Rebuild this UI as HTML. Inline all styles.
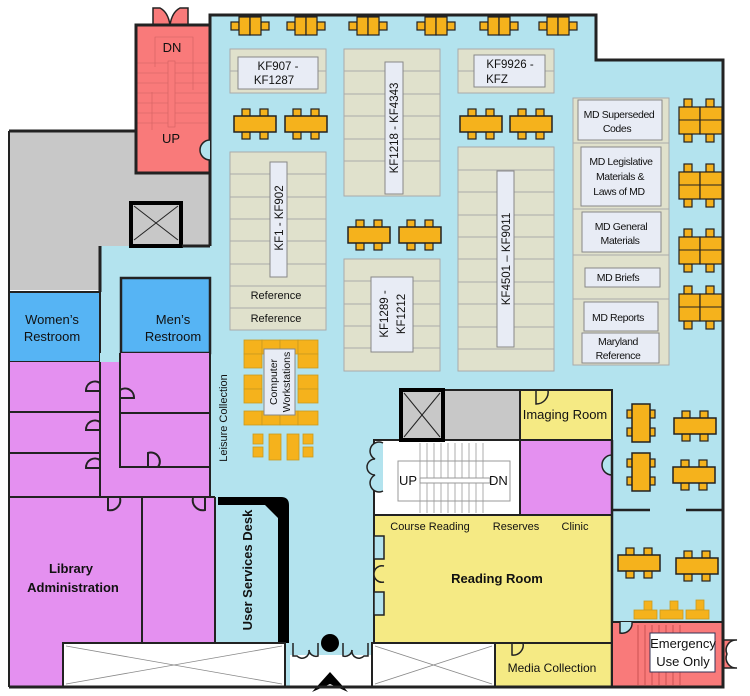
<!DOCTYPE html>
<html><head><meta charset="utf-8"><style>
html,body{margin:0;padding:0;background:#fff;width:750px;height:696px;overflow:hidden}
svg{display:block}
text{font-family:"Liberation Sans",Arial,sans-serif;fill:#111}
</style></head><body>
<svg width="750" height="696" viewBox="0 0 750 696" xmlns="http://www.w3.org/2000/svg">
<defs>
<g id="th"><rect x="-13" y="-15" width="8" height="8" fill="#f5b21c" stroke="#222" stroke-width="1.2"/><rect x="5" y="-15" width="8" height="8" fill="#f5b21c" stroke="#222" stroke-width="1.2"/><rect x="-13" y="7" width="8" height="8" fill="#f5b21c" stroke="#222" stroke-width="1.2"/><rect x="5" y="7" width="8" height="8" fill="#f5b21c" stroke="#222" stroke-width="1.2"/><rect x="-21" y="-8" width="42" height="16" fill="#f5b21c" stroke="#222" stroke-width="1.5"/></g>
<g id="tv"><rect x="-14" y="-13" width="8" height="8" fill="#f5b21c" stroke="#222" stroke-width="1.2"/><rect x="-14" y="5" width="8" height="8" fill="#f5b21c" stroke="#222" stroke-width="1.2"/><rect x="6" y="-13" width="8" height="8" fill="#f5b21c" stroke="#222" stroke-width="1.2"/><rect x="6" y="5" width="8" height="8" fill="#f5b21c" stroke="#222" stroke-width="1.2"/><rect x="-9" y="-19" width="18" height="38" fill="#f5b21c" stroke="#222" stroke-width="1.5"/></g>
<g id="ts"><rect x="-19" y="-4" width="8" height="8" fill="#f5b21c" stroke="#222" stroke-width="1.2"/><rect x="11" y="-4" width="8" height="8" fill="#f5b21c" stroke="#222" stroke-width="1.2"/><rect x="-11" y="-9" width="11" height="18" fill="#f5b21c" stroke="#222" stroke-width="1.2"/><rect x="0" y="-9" width="11" height="18" fill="#f5b21c" stroke="#222" stroke-width="1.2"/></g>
<g id="tp"><rect x="-17" y="-22" width="8" height="8" fill="#f5b21c" stroke="#222" stroke-width="1.2"/><rect x="5" y="-22" width="8" height="8" fill="#f5b21c" stroke="#222" stroke-width="1.2"/><rect x="-17" y="13" width="8" height="8" fill="#f5b21c" stroke="#222" stroke-width="1.2"/><rect x="5" y="13" width="8" height="8" fill="#f5b21c" stroke="#222" stroke-width="1.2"/><rect x="-22" y="-14" width="21" height="27" fill="#f5b21c" stroke="#222" stroke-width="1.2"/><rect x="-1" y="-14" width="22" height="27" fill="#f5b21c" stroke="#222" stroke-width="1.2"/><line x1="-22" y1="-1" x2="21" y2="-1" stroke="#222"/></g>
</defs>

<polygon points="210,15 596,15 596,60 723,60 723,687 210,687 210,246 100,246 100,292 210,292" fill="#b3e3ee"/>
<rect x="100" y="246" width="110" height="116" fill="#b3e3ee"/>
<polygon points="8,131 136,131 136,173 210,173 210,246 100,246 100,290 8,290" fill="#c8c8c8"/>
<rect x="135" y="25" width="75" height="148" fill="#f97a7a"/>
<g stroke="#d06062" stroke-width="0.6" fill="none">
<line x1="137" y1="63" x2="208" y2="63"/><line x1="137" y1="73" x2="208" y2="73"/><line x1="137" y1="83" x2="208" y2="83"/><line x1="137" y1="93" x2="208" y2="93"/><line x1="137" y1="103" x2="208" y2="103"/><line x1="137" y1="113" x2="208" y2="113"/><line x1="137" y1="123" x2="208" y2="123"/>
<rect x="168" y="61" width="7" height="66" fill="#f97a7a"/>
<polyline points="155,67 155,37 193,37 193,90"/>
<line x1="152" y1="92" x2="152" y2="130"/>
</g>
<text x="172" y="52" font-size="13" text-anchor="middle">DN</text>
<text x="171" y="143" font-size="13" text-anchor="middle">UP</text>
<path d="M153,25 L153,8 L160,8 Q168,12 170,25 Q172,12 180,8 L188,8 L188,25 Z" fill="#f97a7a" stroke="#222" stroke-width="1.5"/>
<rect x="131" y="203" width="50" height="43" fill="#c8c8c8" stroke="#000" stroke-width="4"/>
<line x1="134" y1="206" x2="178" y2="240" stroke="#222"/><line x1="178" y1="206" x2="134" y2="240" stroke="#222"/>
<rect x="9" y="292" width="91" height="70" fill="#56b4f4" stroke="#222" stroke-width="2"/>
<rect x="121" y="278" width="89" height="75" fill="#56b4f4" stroke="#222" stroke-width="2.5"/>
<text x="52" y="324" font-size="13" text-anchor="middle">Women’s</text>
<text x="52" y="341" font-size="13" text-anchor="middle">Restroom</text>
<text x="173" y="324" font-size="13" text-anchor="middle">Men’s</text>
<text x="173" y="341" font-size="13" text-anchor="middle">Restroom</text>
<polygon points="9,362 100,362 100,353 210,353 210,497 215,497 215,643 142,643 142,687 9,687" fill="#e490f0"/>
<polygon points="100,362 120,362 120,353 100,353" fill="#b3e3ee"/>
<g stroke="#222" stroke-width="2" fill="none">
<line x1="9" y1="412" x2="100" y2="412"/><line x1="9" y1="453" x2="100" y2="453"/><line x1="9" y1="497" x2="100" y2="497"/>
<line x1="100" y1="362" x2="100" y2="497"/>
<polyline points="120,353 120,467 210,467"/><line x1="120" y1="413" x2="210" y2="413"/>
<line x1="100" y1="497" x2="215" y2="497"/><line x1="142" y1="497" x2="142" y2="643"/>
<line x1="9" y1="131" x2="9" y2="687"/><line x1="210" y1="353" x2="210" y2="497"/>
<line x1="215" y1="497" x2="215" y2="643"/>
<path d="M100,383 a9,9 0 0 0 -14,8 L100,391"/><path d="M100,422 a9,9 0 0 0 -14,8 L100,430"/><path d="M100,460 a9,9 0 0 0 -14,8 L100,468"/>
<path d="M120,390 a9,9 0 0 1 14,8 L120,398"/><path d="M148,467 L148,453 a9,9 0 0 1 10,14"/>
<path d="M108,497 L108,510 a10,10 0 0 0 12,-12"/><path d="M205,497 L205,510 a10,10 0 0 1 -12,-12"/>
</g>
<text x="71" y="573" font-size="13" font-weight="bold" text-anchor="middle">Library</text>
<text x="73" y="592" font-size="13" font-weight="bold" text-anchor="middle">Administration</text>
<rect x="218" y="497" width="70" height="146" fill="#b3e3ee"/>
<path d="M218,497 L281,497 Q289,497 289,505 L289,643 L278,643 L278,518 L265,505 L218,505 Z" fill="#000"/>
<text transform="translate(252,570) rotate(-90)" font-size="13" font-weight="bold" text-anchor="middle">User Services Desk</text>
<text transform="translate(227,418) rotate(-90)" font-size="11" text-anchor="middle">Leisure Collection</text>
<rect x="63" y="643" width="222" height="44" fill="#fff" stroke="#222" stroke-width="2"/>
<line x1="66" y1="646" x2="282" y2="684" stroke="#888" stroke-width="0.8"/><line x1="282" y1="646" x2="66" y2="684" stroke="#888" stroke-width="0.8"/>
<rect x="290" y="643" width="82" height="12" fill="#b3e3ee"/>
<rect x="290" y="655" width="82" height="40" fill="#fff"/>
<g stroke="#222" stroke-width="1.5" fill="none">
<path d="M293,643 L293,656 L297,656 a7,7 0 0 0 12,-6"/><path d="M318,643 L318,656 a7,7 0 0 1 -9,-6"/>
<path d="M343,643 L343,656 a7,7 0 0 0 9,-6"/><path d="M368,643 L368,656 L364,656 a7,7 0 0 1 -12,-6"/>
</g>
<circle cx="330" cy="643" r="9" fill="#000"/>
<polygon points="330,672 348,692 330,684 312,692" fill="#000"/>
<rect x="372" y="643" width="123" height="44" fill="#fff" stroke="#222" stroke-width="2"/>
<line x1="375" y1="646" x2="492" y2="684" stroke="#888" stroke-width="0.8"/><line x1="492" y1="646" x2="375" y2="684" stroke="#888" stroke-width="0.8"/>
<rect x="495" y="643" width="117" height="44" fill="#f5ea84" stroke="#222" stroke-width="2"/>
<path d="M512,643 L512,655 a10,10 0 0 0 11,-12" stroke="#222" stroke-width="1.5" fill="none"/>
<text x="552" y="672" font-size="12" text-anchor="middle">Media Collection</text>
<rect x="374" y="515" width="238" height="128" fill="#f5ea84" stroke="#222" stroke-width="2"/>
<rect x="374" y="536" width="10" height="23" fill="#b3e3ee" stroke="#222" stroke-width="1.5"/>
<rect x="374" y="592" width="10" height="23" fill="#b3e3ee" stroke="#222" stroke-width="1.5"/>
<path d="M384,566 a8,8 0 0 0 -10,8 a8,8 0 0 0 10,8" stroke="#222" stroke-width="1.5" fill="#f5ea84"/>
<text x="430" y="530" font-size="11" text-anchor="middle">Course Reading</text>
<text x="516" y="530" font-size="11" text-anchor="middle">Reserves</text>
<text x="575" y="530" font-size="11" text-anchor="middle">Clinic</text>
<text x="497" y="583" font-size="13" font-weight="bold" text-anchor="middle">Reading Room</text>
<rect x="374" y="440" width="146" height="75" fill="#fff" stroke="#222" stroke-width="2"/>
<g stroke="#999" stroke-width="0.8">
<line x1="420" y1="443" x2="420" y2="513"/><line x1="427" y1="443" x2="427" y2="513"/><line x1="434" y1="443" x2="434" y2="513"/><line x1="441" y1="443" x2="441" y2="513"/><line x1="448" y1="443" x2="448" y2="513"/><line x1="455" y1="443" x2="455" y2="513"/><line x1="462" y1="443" x2="462" y2="513"/><line x1="469" y1="443" x2="469" y2="513"/><line x1="476" y1="443" x2="476" y2="513"/><line x1="483" y1="443" x2="483" y2="513"/>
</g>
<rect x="398" y="461" width="112" height="40" fill="none" stroke="#999"/>
<rect x="420" y="478" width="70" height="5" fill="#fff" stroke="#999"/>
<text x="399" y="485" font-size="13">UP</text><text x="489" y="485" font-size="13">DN</text>
<path d="M383,443 a8,8 0 0 0 -8,16 a8,8 0 0 0 0,16 a8,8 0 0 0 8,16" stroke="#222" stroke-width="1.5" fill="#b3e3ee"/>
<rect x="520" y="440" width="92" height="75" fill="#e490f0" stroke="#222" stroke-width="2"/>
<path d="M612,455 a10,10 0 0 0 -10,10 a10,10 0 0 0 10,10" stroke="#222" stroke-width="1.5" fill="#b3e3ee"/>
<rect x="443" y="390" width="77" height="50" fill="#c8c8c8" stroke="#222" stroke-width="2"/>
<rect x="401" y="390" width="42" height="50" fill="#c8c8c8" stroke="#000" stroke-width="4"/>
<line x1="404" y1="393" x2="440" y2="437" stroke="#222"/><line x1="440" y1="393" x2="404" y2="437" stroke="#222"/>
<rect x="520" y="390" width="92" height="50" fill="#f5ea84" stroke="#222" stroke-width="2"/>
<path d="M536,390 L536,404 a12,12 0 0 0 12,-14" stroke="#222" stroke-width="1.5" fill="none"/>
<text x="565" y="419" font-size="13" text-anchor="middle">Imaging Room</text>
<g stroke="#222" stroke-width="2.5" fill="none">
<line x1="612" y1="440" x2="612" y2="687"/>
<line x1="612" y1="510" x2="650" y2="510"/><line x1="686" y1="510" x2="723" y2="510"/>
</g>
<rect x="612" y="622" width="111" height="65" fill="#f97a7a" stroke="#222" stroke-width="2"/>
<g stroke="#c0484a" stroke-width="0.8"><line x1="638" y1="625" x2="638" y2="685"/><line x1="645" y1="625" x2="645" y2="685"/><line x1="652" y1="625" x2="652" y2="685"/><line x1="659" y1="625" x2="659" y2="685"/><line x1="666" y1="625" x2="666" y2="685"/><line x1="673" y1="625" x2="673" y2="685"/><line x1="680" y1="625" x2="680" y2="685"/></g>
<path d="M620,622 L620,633 a10,10 0 0 0 12,-11" fill="#b3e3ee" stroke="#222" stroke-width="1.5"/>
<path d="M723,640 L737,640 a10,10 0 0 0 -10,14 a10,10 0 0 0 10,14 L723,668" fill="#f97a7a" stroke="#222" stroke-width="1.5"/>
<rect x="650" y="633" width="65" height="39" fill="#fff" stroke="#335"/>
<text x="683" y="648" font-size="13" text-anchor="middle">Emergency</text>
<text x="683" y="666" font-size="13" text-anchor="middle">Use Only</text>
<g stroke="#222" stroke-width="3" fill="none">
<polyline points="210,173 210,15 596,15 596,60 723,60 723,687 9,687"/>
<polyline points="136,173 136,25 210,25"/>
<polyline points="9,131 136,131 136,173 210,173 210,246"/>
<polyline points="100,246 100,292"/>
<line x1="210" y1="246" x2="182" y2="246"/>
</g>
<path d="M210,140 a10,10 0 0 0 -10,10 a10,10 0 0 0 10,10" fill="#b3e3ee" stroke="#222" stroke-width="1.5"/>
<g fill="#e0e1cc" stroke="#aaa" stroke-width="1">
<rect x="230" y="49" width="96" height="44"/>
<rect x="344" y="49" width="96" height="147"/>
<rect x="458" y="49" width="96" height="44"/>
<rect x="230" y="152" width="96" height="178"/>
<rect x="344" y="259" width="96" height="112"/>
<rect x="458" y="147" width="96" height="224"/>
<rect x="573" y="98" width="96" height="267"/>
</g>
<g stroke="#aaa" stroke-width="1">
<line x1="344" y1="71" x2="440" y2="71"/><line x1="344" y1="94" x2="440" y2="94"/><line x1="344" y1="116" x2="440" y2="116"/><line x1="344" y1="139" x2="440" y2="139"/><line x1="344" y1="161" x2="440" y2="161"/>
<line x1="230" y1="174" x2="326" y2="174"/><line x1="230" y1="197" x2="326" y2="197"/><line x1="230" y1="219" x2="326" y2="219"/><line x1="230" y1="241" x2="326" y2="241"/><line x1="230" y1="264" x2="326" y2="264"/><line x1="230" y1="286" x2="326" y2="286"/><line x1="230" y1="308" x2="326" y2="308"/>
<line x1="344" y1="281" x2="440" y2="281"/><line x1="344" y1="304" x2="440" y2="304"/><line x1="344" y1="326" x2="440" y2="326"/><line x1="344" y1="348" x2="440" y2="348"/>
<line x1="458" y1="170" x2="554" y2="170"/><line x1="458" y1="192" x2="554" y2="192"/><line x1="458" y1="215" x2="554" y2="215"/><line x1="458" y1="237" x2="554" y2="237"/><line x1="458" y1="259" x2="554" y2="259"/><line x1="458" y1="282" x2="554" y2="282"/><line x1="458" y1="304" x2="554" y2="304"/><line x1="458" y1="327" x2="554" y2="327"/><line x1="458" y1="349" x2="554" y2="349"/>
<line x1="230" y1="71" x2="326" y2="71"/><line x1="458" y1="71" x2="554" y2="71"/>
<line x1="573" y1="143" x2="669" y2="143"/><line x1="573" y1="209" x2="669" y2="209"/><line x1="573" y1="255" x2="669" y2="255"/><line x1="573" y1="299" x2="669" y2="299"/>
</g>
<g fill="#e8ecf5" stroke="#888" stroke-width="1">
<rect x="238" y="57" width="80" height="32"/>
<rect x="385" y="62" width="18" height="132"/>
<rect x="474" y="55" width="71" height="32"/>
<rect x="270" y="162" width="17" height="115"/>
<rect x="371" y="277" width="42" height="75"/>
<rect x="497" y="171" width="17" height="176"/>
<rect x="578" y="100" width="84" height="40"/>
<rect x="581" y="147" width="80" height="59"/>
<rect x="582" y="212" width="79" height="40"/>
<rect x="585" y="268" width="75" height="19"/>
<rect x="584" y="302" width="74" height="29"/>
<rect x="582" y="333" width="77" height="30"/>
</g>
<g font-size="11.5">
<text x="278" y="70" text-anchor="middle">KF907 -</text><text x="274" y="84" text-anchor="middle">KF1287</text>
<text x="510" y="68" text-anchor="middle">KF9926 -</text><text x="497" y="83" text-anchor="middle">KFZ</text>
<text transform="translate(398,128) rotate(-90)" text-anchor="middle">KF1218 - KF4343</text>
<text transform="translate(283,218) rotate(-90)" text-anchor="middle">KF1 - KF902</text>
<text transform="translate(388,314) rotate(-90)" text-anchor="middle">KF1289 -</text>
<text transform="translate(405,314) rotate(-90)" text-anchor="middle">KF1212</text>
<text transform="translate(510,259) rotate(-90)" text-anchor="middle">KF4501 – KF9011</text>
<text x="276" y="299" text-anchor="middle" font-size="11">Reference</text>
<text x="276" y="322" text-anchor="middle" font-size="11">Reference</text>
</g>
<g font-size="10.5" text-anchor="middle" letter-spacing="-0.4">
<text x="619" y="118">MD Superseded</text><text x="617" y="132">Codes</text>
<text x="621" y="165">MD Legislative</text><text x="620" y="180">Materials  &amp;</text><text x="619" y="195">Laws of MD</text>
<text x="621" y="230">MD General</text><text x="620" y="244">Materials</text>
<text x="618" y="281">MD Briefs</text>
<text x="618" y="321">MD Reports</text>
<text x="618" y="345">Maryland</text><text x="618" y="359">Reference</text>
</g>
<use href="#ts" x="250" y="26"/><use href="#ts" x="306" y="26"/><use href="#ts" x="368" y="26"/><use href="#ts" x="436" y="26"/><use href="#ts" x="499" y="26"/><use href="#ts" x="558" y="26"/>
<use href="#th" x="255" y="124"/><use href="#th" x="306" y="124"/><use href="#th" x="481" y="124"/><use href="#th" x="531" y="124"/>
<use href="#th" x="369" y="235"/><use href="#th" x="420" y="235"/>
<use href="#tp" x="701" y="121"/><use href="#tp" x="701" y="186"/><use href="#tp" x="701" y="251"/><use href="#tp" x="701" y="308"/>
<use href="#tv" x="641" y="423"/><use href="#th" x="695" y="426"/>
<use href="#tv" x="641" y="472"/><use href="#th" x="694" y="475"/>
<use href="#th" x="639" y="563"/><use href="#th" x="697" y="566"/>
<g fill="#f5b21c" stroke="#c99a20" stroke-width="0.8">
<rect x="644" y="601" width="8" height="9"/><rect x="634" y="610" width="23" height="9"/>
<rect x="670" y="601" width="8" height="9"/><rect x="660" y="610" width="23" height="9"/>
<rect x="696" y="600" width="8" height="10"/><rect x="686" y="610" width="23" height="9"/>
</g>
<g fill="#f5b21c" stroke="#c99a20" stroke-width="0.8">
<rect x="244" y="340" width="18" height="14"/><rect x="244" y="354" width="18" height="14"/><rect x="262" y="340" width="18" height="14"/><rect x="280" y="340" width="18" height="14"/><rect x="298" y="340" width="20" height="14"/><rect x="298" y="354" width="20" height="14"/>
<rect x="244" y="375" width="18" height="14"/><rect x="244" y="389" width="18" height="14"/><rect x="298" y="375" width="20" height="14"/><rect x="298" y="389" width="20" height="14"/>
<rect x="244" y="411" width="18" height="14"/><rect x="262" y="411" width="18" height="14"/><rect x="280" y="411" width="18" height="14"/><rect x="298" y="411" width="20" height="14"/>
<rect x="253" y="434" width="10" height="10"/><rect x="253" y="447" width="10" height="10"/><rect x="269" y="434" width="12" height="26"/><rect x="287" y="434" width="12" height="26"/><rect x="303" y="434" width="10" height="10"/><rect x="303" y="447" width="10" height="10"/>
</g>
<rect x="264" y="349" width="31" height="66" fill="#e8ecf5" stroke="#888"/>
<text transform="translate(277,382) rotate(-90)" font-size="10.5" text-anchor="middle">Computer</text>
<text transform="translate(290,382) rotate(-90)" font-size="10.5" text-anchor="middle">Workstations</text>
</svg>
</body></html>
